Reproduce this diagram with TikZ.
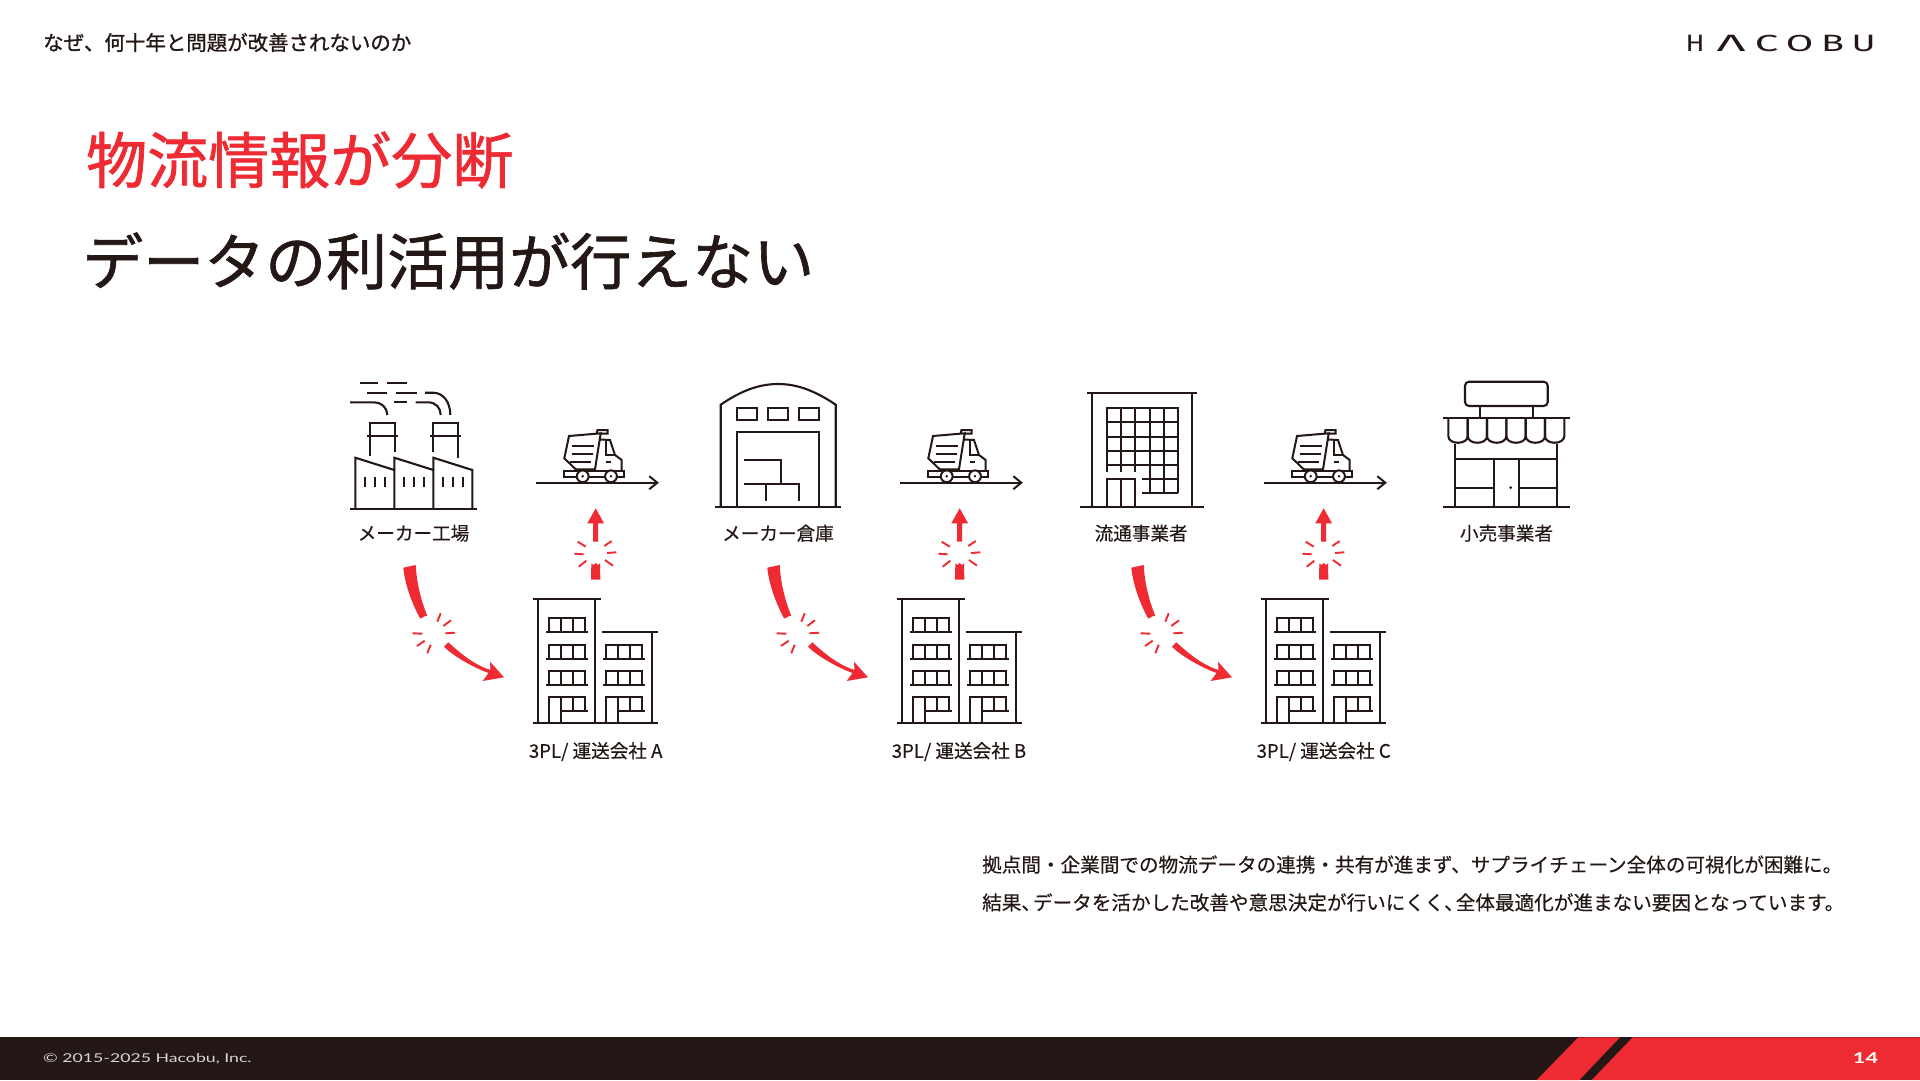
\documentclass[tikz,border=0pt]{standalone}
\usepackage{fontspec}
\setmainfont{Noto Sans CJK JP}
\newfontfamily\jp{Noto Sans CJK JP}
\newfontfamily\jpm{Noto Sans CJK JP}[FakeBold=0.35]
\newfontfamily\jpt{Noto Sans CJK JP}[FakeBold=1.1]
\newfontfamily\wide[FakeStretch=1.45]{Lato}
\newfontfamily\logof{Fira Sans}
\definecolor{ink}{HTML}{231815}
\definecolor{hred}{HTML}{EE2A33}
\definecolor{foot}{HTML}{D8D5D4}
\tikzset{
  icon/.style={draw=ink,line width=2.1pt,fill=none},
  thin icon/.style={draw=ink,line width=2pt,fill=none},
  ray/.style={draw=hred,line width=1.9pt},
  lbl/.style={font=\jpm\fontsize{18.6}{20}\selectfont,text=ink,inner sep=0pt,anchor=center},
  body/.style={font=\jpm\fontsize{19.6}{22}\selectfont,text=ink,inner sep=0pt,anchor=west},
  titletxt/.style={font=\jpt\fontsize{61}{66}\selectfont,inner sep=0pt,anchor=west},
  logoletter/.style={font=\logof\fontsize{23}{24}\selectfont,text=ink,inner sep=0pt,anchor=center},
}
\newcommand{\truckicon}{%
  \draw[thin icon] (569,436) -- (564.3,458.3) -- (575.7,469.3) -- (595,469.3) -- (600.7,433.3) -- cycle;
  \draw[thin icon] (596.7,433.5) -- (597.5,430) -- (607.7,430) -- (607.7,433.5) -- (600.7,433.5);
  \draw[thin icon] (600,439.5) -- (610,440) -- (615,455) -- (621.7,460) -- (621.7,470.7);
  \draw[thin icon] (605.7,440.5) -- (605.7,455) -- (615,455);
  \draw[thin icon] (572.3,446) -- (594.3,446) (571.7,454.3) -- (592.7,454.3) (570,462.3) -- (591,462.3) (605.7,461.7) -- (611,461.7);
  \draw[thin icon] (564.3,470.7) rectangle (624,476.7);
  \draw[thin icon,fill=white] (582.7,476.3) circle[radius=5.9pt];
  \draw[thin icon,fill=white] (611,476.3) circle[radius=5.9pt];
  \fill[ink] (582.7,476.3) circle[radius=1.4pt] (611,476.3) circle[radius=1.4pt];
  \coordinate (rs) at (536,482.7);
  \coordinate (re) at (657.3,482.7);
  \draw[thin icon] (rs) -- (re);
  \draw[thin icon] (649.3,476.2) -- (re) -- (649.3,489.2);
}
\newcommand{\officeicon}{%
  \draw[icon] (533.3,722.7) -- (657.7,722.7);
  \draw[icon] (533.3,599.3) -- (600.7,599.3) (538.3,599.3) -- (538.3,722.7) (595.3,599.3) -- (595.3,722.7);
  \draw[icon] (601.7,632.3) -- (657.7,632.3) (652.3,632.3) -- (652.3,722.7);
  \foreach \t/\b in {618.3/632.3,644.7/658.7,670.7/685}{
    \draw[icon] (546,\b) -- (587.7,\b) (548.7,\b) -- (548.7,\t) -- (585,\t) -- (585,\b) (561,\t) -- (561,\b) (573.3,\t) -- (573.3,\b);
  }
  \foreach \t/\b in {644.7/658.7,670.7/685}{
    \draw[icon] (603.3,\b) -- (645,\b) (605.7,\b) -- (605.7,\t) -- (641.7,\t) -- (641.7,\b) (617.7,\t) -- (617.7,\b) (630,\t) -- (630,\b);
  }
  \draw[icon] (548.7,722.7) -- (548.7,697.3) -- (585,697.3) -- (585,711) (561,697.3) -- (561,722.7) (573.3,697.3) -- (573.3,711) (561,711) -- (587.7,711);
  \draw[icon] (605.7,722.7) -- (605.7,697.3) -- (641.7,697.3) -- (641.7,711) (617.7,697.3) -- (617.7,722.7) (630,697.3) -- (630,711) (617.7,711) -- (645,711);
}
\newcommand{\burstup}{%
  \fill[hred] (595.7,508.3) -- (604,523.3) -- (598.2,523.3) -- (598.2,541.7) -- (593.2,541.7) -- (593.2,523.3) -- (587.3,523.3) -- cycle;
  \fill[hred] (591.3,563.3) -- (593.5,565) -- (595.7,563) -- (597.9,565) -- (600.1,563.3) -- (600.3,579.5) -- (591.1,579.5) -- cycle;
  \draw[ray] (577.7,541.7) -- (585.7,546.7) (604.3,546) -- (611.7,541) (574.3,553.7) -- (583.7,554.3) (607,553) -- (616.3,552.3) (578.7,566.7) -- (586.3,560.7) (605,560) -- (613,565.7);
}
\newcommand{\burstcurve}{%
  \fill[hred] (403.3,567.7) -- (415.7,565) .. controls (416.5,582) and (421,601) .. (427.3,615.7) -- (424,616.5) -- (422,618) -- (420,618.3) .. controls (412,603) and (405,585) .. (403.3,567.7) -- cycle;
  \draw[ray] (437.3,621.7) -- (440.7,613.3) (443.3,626) -- (451,620.3) (445.3,633.3) -- (455,632.7) (412.7,633.3) -- (422.3,633.7) (417,646) -- (424.7,640.7) (427.3,653.3) -- (430.7,644.7);
  \fill[hred] (448.3,642.3) .. controls (458,651) and (472,664) .. (490.5,670) -- (490,661.7) -- (504,677.3) -- (482.7,681) -- (488.5,673) .. controls (472,667) and (452,655) .. (444,646.7) -- cycle;
}
\begin{document}
\begin{tikzpicture}[x=1pt,y=-1pt]
\useasboundingbox (0,0) rectangle (1920,1080);
\fill[white] (0,0) rectangle (1920,1080);

% header
\node[anchor=west,inner sep=0pt,text=ink,font=\jpt\fontsize{20.45}{22}\selectfont] (head) at (43,42.5) {なぜ、何十年と問題が改善されないのか};
\node[logoletter] (lH) at (1695.2,43) {\resizebox{19pt}{16.3pt}{H}};
\node[logoletter] (lA) at (1731,43) {\resizebox{29pt}{16.3pt}{Λ}};
\node[logoletter] (lC) at (1766.5,43) {\resizebox{23.5pt}{16.3pt}{C}};
\node[logoletter] (lO) at (1799.5,43) {\resizebox{27.5pt}{16.3pt}{O}};
\node[logoletter] (lB) at (1832.5,43) {\resizebox{23pt}{16.3pt}{B}};
\node[logoletter] (lU) at (1863.7,43) {\resizebox{24pt}{16.3pt}{U}};

% titles
\node[titletxt,text=hred] (t1) at (86,160) {物流情報が分断};
\node[titletxt,text=ink] (t2) at (82,261) {データの利活用が行えない};

% factory
\draw[icon] (350,508.7) -- (477,508.7);
\draw[icon] (355.3,508.7) -- (355.3,457.7) -- (394.3,470) -- (394.3,508.7);
\draw[icon] (394.3,470) -- (394.3,457.7) -- (433.3,470) -- (433.3,508.7);
\draw[icon] (433.3,470) -- (433.3,457.7) -- (472.3,470) -- (472.3,508.7);
\foreach \x in {365,375,385,404,414,424,442.7,452.7,462.7}{\draw[thin icon] (\x,477.3) -- (\x,486.7);}
\draw[icon] (370,456) -- (370,423.3) -- (394.7,423.3) -- (394.7,451.7) (367.3,436) -- (397.7,436);
\draw[icon] (433,451.7) -- (433,423.3) -- (458,423.3) -- (458,458.3) (430,436) -- (460.7,436);
\draw[icon] (360,383) -- (377.7,383) (386.7,383) -- (407.3,383);
\draw[icon] (367.3,392.7) -- (387.3,392.7) (396,392.7) -- (416.7,392.7);
\draw[icon] (425,392.7) -- (433,392.7) .. controls (444,392.7) and (450.3,403) .. (450.3,415);
\draw[icon] (350,402.3) -- (373,402.3) .. controls (382,402.3) and (387.3,408) .. (387.3,415);
\draw[icon] (394,402.3) -- (407.3,402.3);
\draw[icon] (415.7,402.3) -- (428,402.3) .. controls (436,402.3) and (440.7,408) .. (440.7,415);

% warehouse
\draw[icon] (715.3,507.3) -- (840.7,507.3);
\draw[icon] (720.7,507.3) -- (720.7,404.7) .. controls (742,390) and (760,384) .. (778.2,384) .. controls (796,384) and (814,390) .. (835.7,404.7) -- (835.7,507.3);
\draw[icon] (737.3,507.3) -- (737.3,431.7) -- (819,431.7) -- (819,507.3);
\draw[icon] (737.3,407.7) rectangle (756.7,420);
\draw[icon] (768.3,407.7) rectangle (788.3,420);
\draw[icon] (799,407.7) rectangle (819,420);
\draw[icon] (744,460) -- (780.7,460) -- (780.7,483.7);
\draw[icon] (744,483.7) -- (799.3,483.7) -- (799.3,501);
\draw[icon] (766,483.7) -- (766,501);

% distributor office
\draw[icon] (1080,507) -- (1204.3,507);
\draw[icon] (1087.3,393.3) -- (1197.3,393.3) (1092.3,393.3) -- (1092.3,507) (1192,393.3) -- (1192,507);
\draw[icon] (1106.7,465) -- (1106.7,407.7) -- (1177.7,407.7) -- (1177.7,492.7);
\foreach \y in {422,436.7,451,465}{\draw[icon] (1106.7,\y) -- (1177.7,\y);}
\foreach \x in {1121,1135.3}{\draw[icon] (\x,407.7) -- (\x,472);}
\draw[icon] (1106.7,465) -- (1106.7,472);
\foreach \x in {1149.7,1164}{\draw[icon] (\x,407.7) -- (\x,492.7);}
\draw[icon] (1141.7,478.7) -- (1177.7,478.7) (1141.7,492.7) -- (1177.7,492.7);
\draw[icon] (1106.7,507) -- (1106.7,478.7) -- (1135.3,478.7) -- (1135.3,507) (1121,478.7) -- (1121,507);

% retail store
\draw[icon] (1442.7,507) -- (1569.7,507);
\draw[icon,rounded corners=4pt] (1465,381.7) rectangle (1547.7,406);
\draw[icon] (1480,406) -- (1480,418) (1532.7,406) -- (1532.7,418);
\draw[icon] (1442.7,418) -- (1569.7,418);
\foreach \a/\b in {1448.3/1467.7,1467.7/1487,1487/1506.3,1506.3/1525.7,1525.7/1545,1545/1564.3}{
  \draw[icon] (\a,418) -- (\a,436) .. controls (\a,445) and (\b,445) .. (\b,436) -- (\b,418);
}
\draw[icon] (1455.3,444) -- (1455.3,507) (1557,444) -- (1557,507);
\draw[icon] (1455.3,459) -- (1557,459);
\draw[icon] (1494.3,459) -- (1494.3,507) (1518.7,459) -- (1518.7,507);
\draw[icon] (1455.3,487.7) -- (1494.3,487.7) (1518.7,487.7) -- (1557,487.7);
\fill[ink] (1510.7,487.7) circle[radius=1.5pt];

% repeated groups
\foreach \dx in {0,364,728}{
  \begin{scope}[xshift=\dx pt]
    \truckicon
    \officeicon
    \burstup
    \burstcurve
  \end{scope}
}

% labels
\node[lbl] (n1) at (413.5,533.2) {メーカー工場};
\node[lbl] (n2) at (778,533.2) {メーカー倉庫};
\node[lbl] (n3) at (1141.2,533.2) {流通事業者};
\node[lbl] (n4) at (1506.5,533.2) {小売事業者};
\node[lbl] (n5) at (595.7,751.6) {3PL/ 運送会社 A};
\node[lbl] (n6) at (959,751.6) {3PL/ 運送会社 B};
\node[lbl] (n7) at (1323.7,751.6) {3PL/ 運送会社 C};

% body
\node[body] (b1) at (982,864.5) {拠点間・企業間での物流データの連携・共有が進まず、サプライチェーン全体の可視化が困難に。};
\node[body] (b2) at (982,902.4) {結果、\kern-8pt データを活かした改善や意思決定が行いにくく、\kern-8pt 全体最適化が進まない要因となっています。};

% footer
\fill[ink] (0,1037.3) rectangle (1920,1080);
\fill[hred] (1578.3,1037.3) -- (1620,1037.3) -- (1579.3,1080) -- (1536.7,1080) -- cycle;
\fill[hred] (1632.7,1037.3) -- (1920,1037.3) -- (1920,1080) -- (1591.7,1080) -- cycle;
\node[anchor=west,inner sep=0pt,text=foot,font=\wide\fontsize{12.2}{14}\selectfont] (copy) at (43,1059) {© 2015-2025 Hacobu, Inc.};
\node[anchor=center,inner sep=0pt,text=white,font=\wide\bfseries\fontsize{15}{16}\selectfont] (pg) at (1865.5,1058) {14};
\end{tikzpicture}
\end{document}
